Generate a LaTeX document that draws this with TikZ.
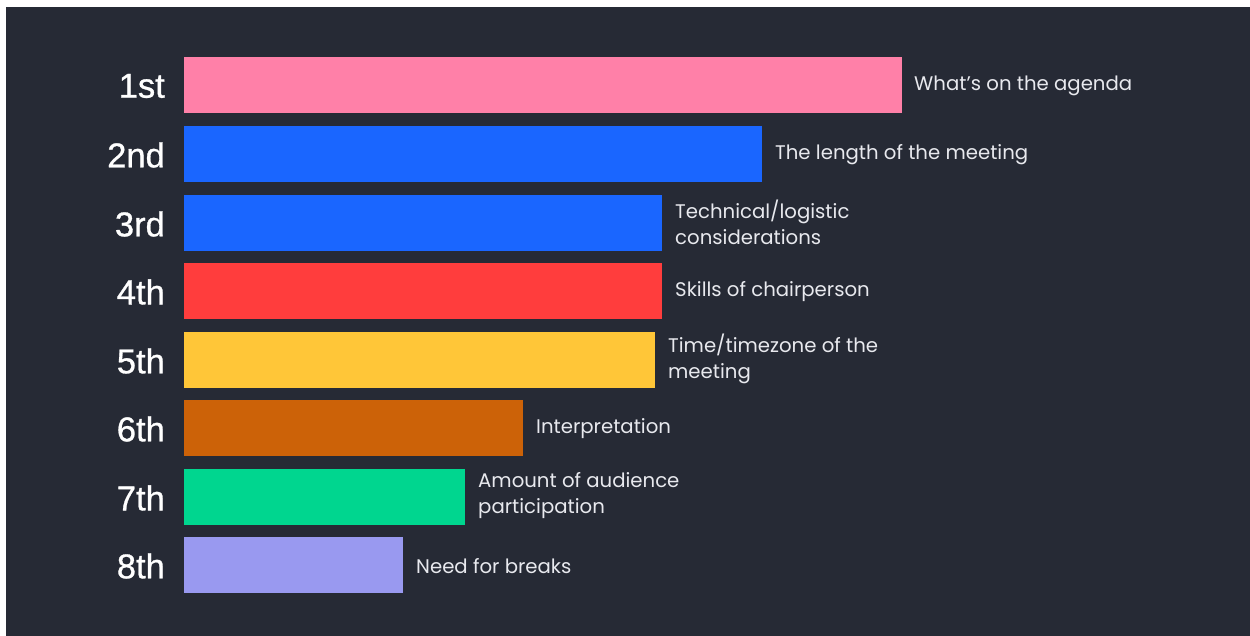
\documentclass[tikz,border=0pt]{standalone}
\usepackage{fontspec}
\setmainfont{Poppins}
\newfontfamily\rankfont[FakeBold=0.8]{Liberation Sans}
\definecolor{bg}{HTML}{262A35}
\definecolor{cpink}{HTML}{FF80A8}
\definecolor{cblue}{HTML}{1A66FF}
\definecolor{cred}{HTML}{FF3D3D}
\definecolor{cyellow}{HTML}{FFC638}
\definecolor{cbrown}{HTML}{CC6208}
\definecolor{cgreen}{HTML}{00D68F}
\definecolor{clav}{HTML}{9999F0}
\definecolor{txt}{HTML}{E8E9EE}
\begin{document}
\begin{tikzpicture}[x=1pt,y=-1pt,
  rank/.style={anchor=east, inner sep=0pt, text=white, font=\rankfont\fontsize{34.5}{38}\selectfont},
  desc/.style={anchor=west, inner sep=0pt, text=txt, align=left, font=\fontsize{19.7}{26}\selectfont}]
\useasboundingbox (0,0) rectangle (1250,636);
\fill[white] (0,0) rectangle (1250,636);
\fill[bg] (6,7) rectangle (1250,636);
% bars
\fill[cpink]   (184,57)  rectangle (902,113);
\fill[cblue]   (184,126) rectangle (762,182);
\fill[cblue]   (184,195) rectangle (662,251);
\fill[cred]    (184,263) rectangle (662,319);
\fill[cyellow] (184,332) rectangle (655,388);
\fill[cbrown]  (184,400) rectangle (523,456);
\fill[cgreen]  (184,469) rectangle (465,525);
\fill[clav]    (184,537) rectangle (403,593);
% ranks
\node[rank] (r1) at (165,86)  {1st};
\node[rank] (r2) at (165,155) {2nd};
\node[rank] (r3) at (165,224) {3rd};
\node[rank] (r4) at (165,292) {4th};
\node[rank] (r5) at (165,361) {5th};
\node[rank] (r6) at (165,429) {6th};
\node[rank] (r7) at (165,498) {7th};
\node[rank] (r8) at (165,566) {8th};
% descriptions
\node[desc] (d1) at (914,86)  {What's on the agenda};
\node[desc] (d2) at (775,155) {The length of the meeting};
\node[desc] (d3) at (675,222) {Technical/logistic\\considerations};
\node[desc] (d4) at (675,292) {Skills of chairperson};
\node[desc] (d5) at (668,359) {Time/timezone of the\\meeting};
\node[desc] (d6) at (536,429) {Interpretation};
\node[desc] (d7) at (478,496) {Amount of audience\\participation};
\node[desc] (d8) at (416,566) {Need for breaks};
\end{tikzpicture}
\end{document}
